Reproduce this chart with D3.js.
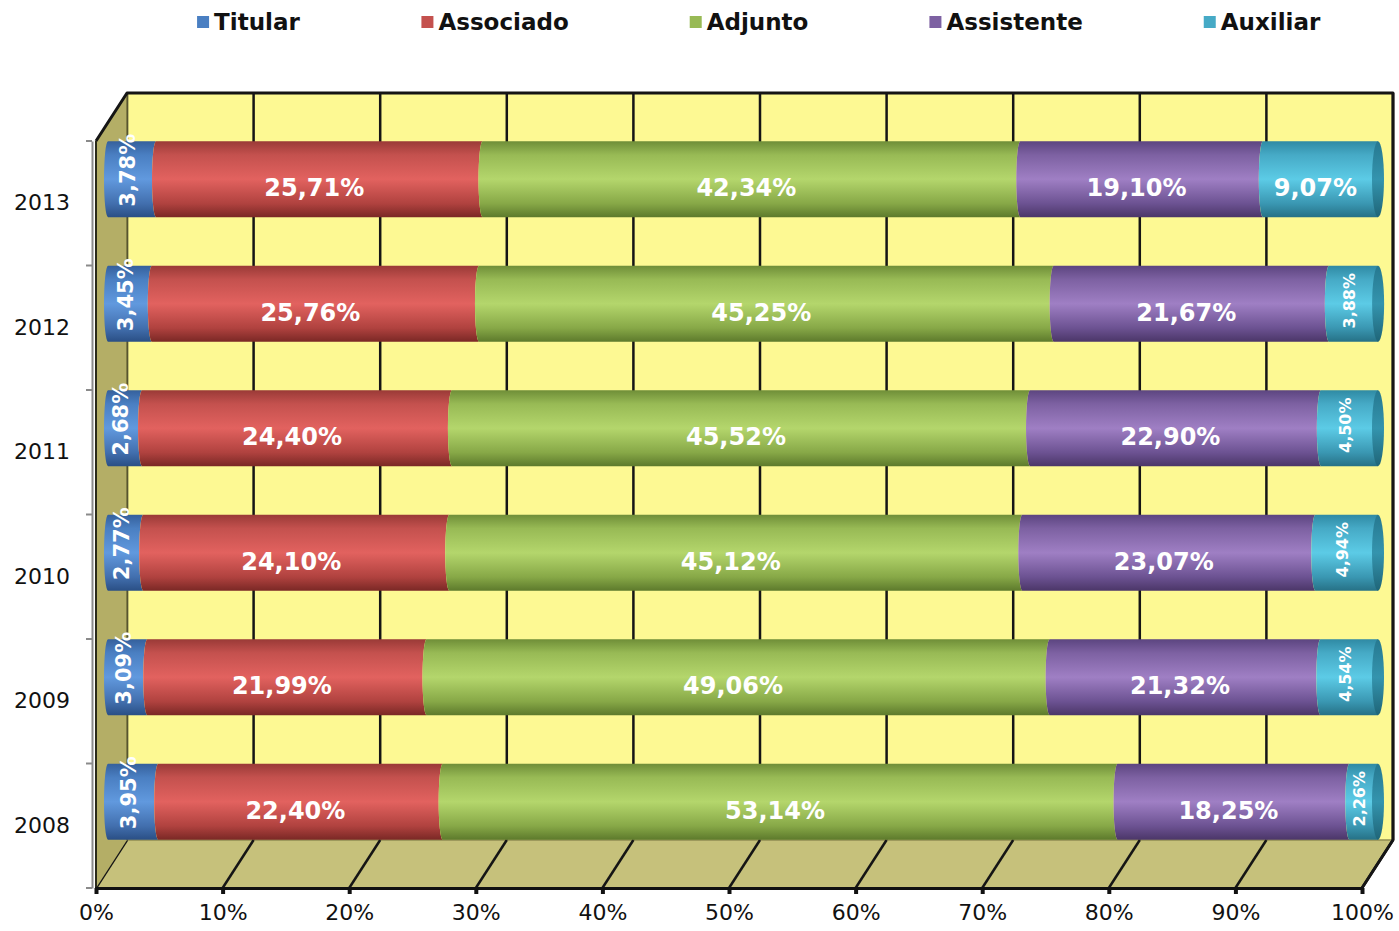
<!DOCTYPE html>
<html>
<head>
<meta charset="utf-8">
<script src="https://cdn.jsdelivr.net/npm/d3@7"></script>
<style>
  html, body { margin: 0; padding: 0; background: #ffffff; }
  svg { display: block; font-family: "DejaVu Sans", Verdana, sans-serif; }
</style>
</head>
<body>
<script>
// Distribuição do corpo docente por classe (percentual por ano)
const years      = ["2013", "2012", "2011", "2010", "2009", "2008"];
const titular    = [3.78, 3.45, 2.68, 2.77, 3.09, 3.95];
const associado  = [25.71, 25.76, 24.40, 24.10, 21.99, 22.40];
const adjunto    = [42.34, 45.25, 45.52, 45.12, 49.06, 53.14];
const assistente = [19.10, 21.67, 22.90, 23.07, 21.32, 18.25];
const auxiliar   = [9.07, 3.88, 4.50, 4.94, 4.54, 2.26];
const seriesNames = ["Titular", "Associado", "Adjunto", "Assistente", "Auxiliar"];
const seriesKeys  = ["titular", "associado", "adjunto", "assistente", "auxiliar"];
const xTicks      = [0, 10, 20, 30, 40, 50, 60, 70, 80, 90, 100];

const rows = years.map((y, i) => ({
  year: y,
  titular: titular[i], associado: associado[i], adjunto: adjunto[i],
  assistente: assistente[i], auxiliar: auxiliar[i]
}));

// cylinder shading: [edge-top, mid-top, highlight, mid-bottom, edge-bottom]
const shades = {
  titular:    ["#35609c", "#4a7fc2", "#6199de", "#426fae", "#2a4f85"],
  associado:  ["#9a3a37", "#c4514e", "#e2625f", "#b0423f", "#7a2825"],
  adjunto:    ["#6f8e38", "#98ba55", "#b4d66c", "#87a847", "#5d7a2c"],
  assistente: ["#5c4580", "#7d61a2", "#9f7fc4", "#6c5292", "#4b3668"],
  auxiliar:   ["#2f8aa4", "#46aac6", "#5ccbe6", "#3a97b2", "#267186"]
};
const capShades = {
  titular:    ["#2c5288", "#3f6eaa", "#2a4c80"],
  associado:  ["#803230", "#a54441", "#6e2523"],
  adjunto:    ["#5f7a30", "#7e9d42", "#516a27"],
  assistente: ["#4e3a6c", "#6a5190", "#412e5a"],
  auxiliar:   ["#267890", "#3494ae", "#1f6578"]
};

const W = 1399, H = 931;
const svg = d3.select("body").append("svg").attr("width", W).attr("height", H);
const defs = svg.append("defs");

seriesKeys.forEach(k => {
  const g = defs.append("linearGradient").attr("id", "grad-" + k)
    .attr("x1", 0).attr("y1", 0).attr("x2", 0).attr("y2", 1);
  const s = shades[k];
  [[0, s[0]], [0.18, s[1]], [0.5, s[2]], [0.82, s[3]], [1, s[4]]].forEach(([o, c]) =>
    g.append("stop").attr("offset", o).attr("stop-color", c));
  const c = defs.append("linearGradient").attr("id", "cap-" + k)
    .attr("x1", 0).attr("y1", 0).attr("x2", 0).attr("y2", 1);
  const cs = capShades[k];
  [[0, cs[0]], [0.5, cs[1]], [1, cs[2]]].forEach(([o, col]) =>
    c.append("stop").attr("offset", o).attr("stop-color", col));
});

// 3D box geometry (front plane and depth offset)
const FX0 = 96, FX1 = 1362, FY_TOP = 141, FY_BOT = 888;
const DX = 31, DY = 48;
const BX0 = FX0 + DX, BX1 = FX1 + DX, BY_TOP = FY_TOP - DY, BY_BOT = FY_BOT - DY;

const xFront = d3.scaleLinear().domain([0, 100]).range([FX0, FX1]);
const xBack  = d3.scaleLinear().domain([0, 100]).range([BX0, BX1]);
const xBar   = d3.scaleLinear().domain([0, 100]).range([108, 1378]);
const yBand  = d3.scaleBand().domain(years).range([FY_TOP, FY_BOT]).padding(0);
const BAR_RY = 38, BAR_SHIFT = 24;
const barCenter = yr => yBand(yr) + yBand.bandwidth() / 2 - BAR_SHIFT;

// back wall
svg.append("rect").attr("x", BX0).attr("y", BY_TOP)
  .attr("width", BX1 - BX0).attr("height", BY_BOT - BY_TOP)
  .attr("fill", "#fdf993");

// back wall gridlines
svg.append("g").selectAll("line").data(xTicks).join("line")
  .attr("x1", d => xBack(d)).attr("x2", d => xBack(d))
  .attr("y1", BY_TOP).attr("y2", BY_BOT)
  .attr("stroke", "#151515").attr("stroke-width", 2.5);

// floor
svg.append("polygon")
  .attr("points", [[FX0, FY_BOT], [BX0, BY_BOT], [BX1, BY_BOT], [FX1, FY_BOT]].join(" "))
  .attr("fill", "#c6c17b");
svg.append("line").attr("x1", BX0).attr("x2", BX1).attr("y1", BY_BOT).attr("y2", BY_BOT)
  .attr("stroke", "#8f8b52").attr("stroke-width", 1.5);
svg.append("g").selectAll("line").data(xTicks).join("line")
  .attr("x1", d => xBack(d)).attr("y1", BY_BOT)
  .attr("x2", d => xFront(d)).attr("y2", FY_BOT)
  .attr("stroke", "#151515").attr("stroke-width", 2.5);

// left side wall
svg.append("polygon")
  .attr("points", [[FX0, FY_TOP], [BX0, BY_TOP], [BX0, BY_BOT], [FX0, FY_BOT]].join(" "))
  .attr("fill", "#b4ae66");
svg.append("line").attr("x1", BX0).attr("x2", BX0).attr("y1", BY_TOP).attr("y2", BY_BOT)
  .attr("stroke", "#6e6a3a").attr("stroke-width", 1.5);

// box outline
svg.append("path")
  .attr("d", `M${FX0},${FY_TOP} L${BX0},${BY_TOP} L${BX1},${BY_TOP} L${BX1},${BY_BOT} L${FX1},${FY_BOT}`)
  .attr("fill", "none").attr("stroke", "#151515").attr("stroke-width", 3)
  .attr("stroke-linejoin", "round");
svg.append("line").attr("x1", FX0).attr("x2", FX0).attr("y1", FY_TOP).attr("y2", FY_BOT)
  .attr("stroke", "#2a2a1a").attr("stroke-width", 2);

// stacked cylinders
const stack = d3.stack().keys(seriesKeys);
const stacked = stack(rows);
const RX = 4, CAP_RX = 6;

function segPath(x0, x1, cy, last) {
  const t = cy - BAR_RY, b = cy + BAR_RY;
  let p = `M${x0},${t} L${x1},${t} `;
  if (last) p += `L${x1},${b} `;
  else p += `A${RX},${BAR_RY} 0 0 0 ${x1},${b} `;
  p += `L${x0},${b} A${RX},${BAR_RY} 0 0 1 ${x0},${t} Z`;
  return p;
}

const barsG = svg.append("g");
stacked.forEach((layer, si) => {
  const key = layer.key;
  const last = si === stacked.length - 1;
  barsG.append("g").selectAll("path").data(layer).join("path")
    .attr("d", d => segPath(xBar(d[0]), xBar(d[1]), barCenter(d.data.year), last))
    .attr("fill", `url(#grad-${key})`);
  if (last) {
    barsG.append("g").selectAll("ellipse").data(layer).join("ellipse")
      .attr("cx", d => xBar(d[1])).attr("cy", d => barCenter(d.data.year))
      .attr("rx", CAP_RX).attr("ry", BAR_RY)
      .attr("fill", `url(#cap-${key})`);
  }
});

// value labels
const fmt = v => v.toFixed(2).replace(".", ",") + "%";
const labelsG = svg.append("g").attr("fill", "#ffffff").attr("font-weight", "bold");
stacked.forEach(layer => {
  const key = layer.key;
  layer.forEach(d => {
    const v = d.data[key];
    const cx = (xBar(d[0]) + xBar(d[1])) / 2 - 5;
    const cy = barCenter(d.data.year);
    if (v >= 5) {
      labelsG.append("text").attr("x", cx).attr("y", cy + 9)
        .attr("text-anchor", "middle").attr("dominant-baseline", "central")
        .attr("font-size", 24).text(fmt(v));
    } else {
      const big = key === "titular";
      const size = big ? 21 : 16;
      const ty = big ? cy - 9 : cy - 3;
      labelsG.append("text")
        .attr("transform", `translate(${cx + (big ? 1 : 1)},${ty}) rotate(-90)`)
        .attr("text-anchor", "middle").attr("dominant-baseline", "central")
        .attr("font-size", size).text(fmt(v));
    }
  });
});

// x axis
const xAxis = d3.axisBottom(xFront).tickValues(xTicks).tickFormat(d => d + "%")
  .tickSize(6).tickPadding(10);
const gx = svg.append("g").attr("transform", `translate(0,${FY_BOT})`).call(xAxis);
gx.select(".domain").attr("stroke", "#111").attr("stroke-width", 3);
gx.selectAll(".tick line").attr("stroke", "#111").attr("stroke-width", 4);
gx.selectAll(".tick text").attr("font-size", 22).attr("fill", "#111")
  .attr("font-family", "'DejaVu Sans', Verdana, sans-serif");

// y axis (category labels with boundary ticks)
const AX = 92;
const gy = svg.append("g").attr("transform", `translate(${AX},0)`)
  .call(d3.axisLeft(yBand).tickSize(0).tickPadding(22));
gy.select(".domain").attr("stroke", "#8a8a8a").attr("stroke-width", 2);
gy.selectAll(".tick text").attr("font-size", 22).attr("fill", "#111")
  .attr("font-family", "'DejaVu Sans', Verdana, sans-serif");
const bounds = years.map(y => yBand(y)).concat([FY_BOT]);
svg.append("g").selectAll("line").data(bounds).join("line")
  .attr("x1", AX - 6).attr("x2", AX).attr("y1", d => d).attr("y2", d => d)
  .attr("stroke", "#8a8a8a").attr("stroke-width", 2);

// legend
const legend = svg.append("g");
const items = legend.selectAll("g").data(seriesKeys).join("g");
items.append("rect").attr("width", 12).attr("height", 12).attr("y", 16)
  .attr("fill", k => shades[k][1]);
items.append("text").attr("x", 17).attr("y", 30)
  .attr("font-size", 23).attr("font-weight", "bold").attr("fill", "#111")
  .text((k, i) => seriesNames[i]);
let widths = [];
items.each(function () { widths.push(this.getBBox().width); });
const GAP = 121;
const total = d3.sum(widths) + GAP * (widths.length - 1);
let pos = 759 - total / 2;
items.attr("transform", (k, i) => {
  const t = `translate(${pos},0)`;
  pos += widths[i] + GAP;
  return t;
});
</script>
</body>
</html>
